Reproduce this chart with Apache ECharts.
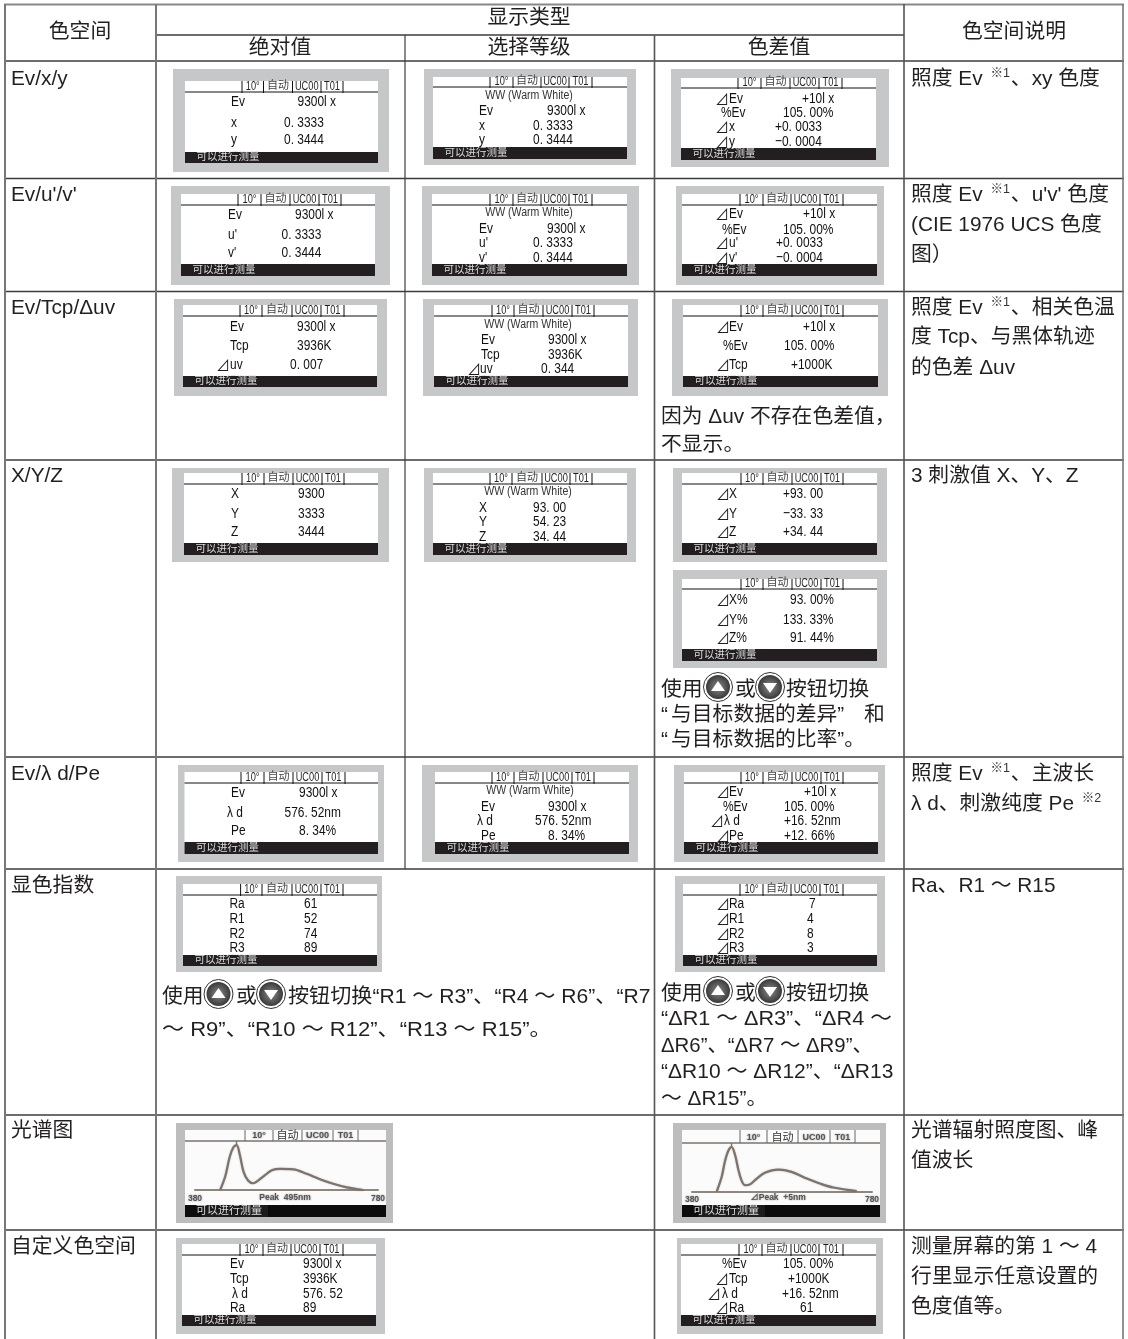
<!DOCTYPE html>
<html><head><meta charset="utf-8">
<style>html,body{margin:0;padding:0;background:#fff}#c{width:1128px;height:1339px}</style>
<script src="https://cdn.jsdelivr.net/npm/echarts@6/dist/echarts.min.js"></script>
</head><body><div id="c"></div>
<script>
// ---------- content ----------
const columnTitles = ["色空间","显示类型","绝对值","选择等级","色差值","色空间说明"];
const colorSpaces = ["Ev/x/y","Ev/u'/v'","Ev/Tcp/Δuv","X/Y/Z","Ev/λ d/Pe","显色指数","光谱图","自定义色空间"];
const statusText = "可以进行测量";
const screenHeader = ["10°","自动","UC00","T01"];
const targetName = "WW (Warm White)";

const absXy   = [["Ev","9300l x"],["x","0. 3333"],["y","0. 3444"]];
const absUv   = [["Ev","9300l x"],["u'","0. 3333"],["v'","0. 3444"]];
const absTcp  = [["Ev","9300l x"],["Tcp","3936K"],["⊿uv","0. 007"]];
const absXyz  = [["X","9300"],["Y","3333"],["Z","3444"]];
const absDom  = [["Ev","9300l x"],["λ d","576. 52nm"],["Pe","8. 34%"]];
const absCri  = [["Ra","61"],["R1","52"],["R2","74"],["R3","89"]];
const absUser = [["Ev","9300l x"],["Tcp","3936K"],["λ d","576. 52"],["Ra","89"]];

const rankXy  = absXy;
const rankUv  = absUv;
const rankTcp = [["Ev","9300l x"],["Tcp","3936K"],["⊿uv","0. 344"]];
const rankXyz = [["X","93. 00"],["Y","54. 23"],["Z","34. 44"]];
const rankDom = absDom;

const diffXy   = [["⊿Ev","+10l x"],["%Ev","105. 00%"],["⊿x","+0. 0033"],["⊿y","−0. 0004"]];
const diffUv   = [["⊿Ev","+10l x"],["%Ev","105. 00%"],["⊿u'","+0. 0033"],["⊿v'","−0. 0004"]];
const diffTcp  = [["⊿Ev","+10l x"],["%Ev","105. 00%"],["⊿Tcp","+1000K"]];
const diffXyz  = [["⊿X","+93. 00"],["⊿Y","−33. 33"],["⊿Z","+34. 44"]];
const diffXyzP = [["⊿X%","93. 00%"],["⊿Y%","133. 33%"],["⊿Z%","91. 44%"]];
const diffDom  = [["⊿Ev","+10l x"],["%Ev","105. 00%"],["⊿λ d","+16. 52nm"],["⊿Pe","+12. 66%"]];
const diffCri  = [["⊿Ra","7"],["⊿R1","4"],["⊿R2","8"],["⊿R3","3"]];
const diffUser = [["%Ev","105. 00%"],["⊿Tcp","+1000K"],["⊿λ d","+16. 52nm"],["⊿Ra","61"]];

// spectra: [wavelength nm], [relative level]
const specAbsNm  = [435,446,456,464,471,478,486,496,507,518,533,548,566,595,624,653,682,712,748];
const specAbsVal = [0,30,74,95,100,78,41,21,15,21,33,44,47,46,36,24,14,6,0];
const specDiffNm  = [435,446,453,461,468,476,483,490,498,509,524,542,572,601,635,664,694,746];
const specDiffVal = [0,33,67,92,100,81,49,25,14,16,29,42,49,44,29,18,9,1];

// ---------- drawing helpers ----------
const CJK = '"Liberation Sans","Noto Sans CJK SC",sans-serif';
const INK = '#231f20';
const BODY = '20.8px '+CJK;
const g = [];
function line(x1,y1,x2,y2,color,w){g.push({type:'line',silent:true,shape:{x1,y1,x2,y2},style:{stroke:color,lineWidth:w}});}
function rect(x1,y1,x2,y2,fill){g.push({type:'rect',silent:true,shape:{x:x1,y:y1,width:x2-x1,height:y2-y1},style:{fill}});}
function text(x,y,t,o){
  o=Object.assign({},o||{}); const sx=o.sx||1; delete o.sx;
  g.push({type:'text',silent:true,x,y:y+1,scaleX:sx,style:Object.assign({text:t,fill:INK,font:BODY,textAlign:'left',textVerticalAlign:'middle'},o)});
}
function lcd(x,y,t){text(x,y,t,{font:'15.5px '+CJK,sx:.77,fill:'#111'});}

function screen(gb,w,hy,bar,t,rows,pos,ww){
  rect(gb[0],gb[1],gb[2],gb[3],'#c6c7c9');
  rect(w[0],w[1],w[2],w[3],'#ffffff');
  line(w[0],hy,w[2],hy,'#111',1);
  t.forEach(x=>line(x,w[1],x,hy+1,'#111',1));
  screenHeader.forEach((s,i)=>{
    const cx=(t[i]+t[i+1])/2;
    if(i==1) text(cx,hy-7,s,{textAlign:'center',font:'11px '+CJK,fill:'#444'});
    else text(cx,hy-6.5,s,{textAlign:'center',font:'12.5px '+CJK,sx:.74});
  });
  rect(w[0],bar,w[2],w[3],INK);
  text(w[0]+11.5,(bar+w[3])/2-1,statusText,{font:'10.5px '+CJK,fill:'#ddd'});
  if(ww) text(ww[0],ww[1],targetName,{textAlign:'center',font:'12px '+CJK,fill:'#333',sx:.88});
  rows.forEach((r,i)=>{
    const p=pos[i]; let lab=r[0];
    if(lab[0]==='⊿'){
      text(p[3]-1,p[2],'⊿',{font:'14px "Noto Sans CJK SC","DejaVu Sans"'});
      lab=lab.slice(1);
    }
    lcd(p[0],p[2],lab);
    lcd(p[1],p[2],r[1]);
  });
}
function button(cx,cy,up){
  g.push({type:'circle',silent:true,shape:{cx,cy,r:14.5},style:{fill:'#fff',stroke:'#333',lineWidth:1}});
  g.push({type:'circle',silent:true,shape:{cx,cy,r:12},style:{fill:{type:'radial',x:.5,y:.5,r:.6,colorStops:[{offset:0,color:'#8a8a8a'},{offset:1,color:'#2a2a2a'}]}}});
  const d=up?1:-1;
  g.push({type:'polygon',silent:true,shape:{points:[[cx,cy-6*d],[cx-7,cy+4*d],[cx+7,cy+4*d]]},style:{fill:'#fff'}});
}
// text with superscript note markers written as ^…^
function body(x,y,t){
  const parts=t.split('^').map((s,i)=>i%2?'{s|'+s+'}':(s?'{t|'+s+'}':'')).join('');
  g.push({type:'text',silent:true,x,y:y+1,style:{text:parts,textVerticalAlign:'middle',rich:{
    t:{fill:INK,font:BODY},
    s:{fill:'#333',font:'12.5px '+CJK,padding:[0,1,11,2]}
  }}});
}

// ---------- table rules ----------
const DK='#3c3c3c', GR='#777';
const rowsY=[61,178.5,291.5,460,757,869,1115,1230];
line(4,4.5,1124,4.5,'#888',2);
line(156,35,904,35,DK,1.5);
rowsY.forEach(y=>line(4,y,1124,y,DK,1.5));
line(5,4,5,1339,GR,2);
line(156,4,156,1339,GR,2);
line(405,35,405,869,DK,1.2);
line(654.5,35,654.5,1339,'#555',1.6);
line(904,4,904,1339,'#555',1.6);
line(1123,4,1123,1339,GR,1.6);

// ---------- headings ----------
const C={textAlign:'center'};
text(80,31,columnTitles[0],C);
text(529,17,columnTitles[1],C);
text(280,47,columnTitles[2],C);
text(529,47,columnTitles[3],C);
text(779,47,columnTitles[4],C);
text(1014,31,columnTitles[5],C);
[78,194,307,475,773,885,1130,1246].forEach((y,i)=>text(11,y,colorSpaces[i]));

// ---------- description column ----------
[[78,'照度 Ev ^※1^、xy 色度'],
 [194,'照度 Ev ^※1^、u\'v\' 色度'],[224,'(CIE 1976 UCS 色度'],[254,'图）'],
 [307,'照度 Ev ^※1^、相关色温'],[336,'度 Tcp、与黑体轨迹'],[367,'的色差 Δuv'],
 [475,'3 刺激值 X、Y、Z'],
 [773,'照度 Ev ^※1^、主波长'],[803,'λ d、刺激纯度 Pe ^※2^'],
 [885,'Ra、R1 ～ R15'],
 [1130,'光谱辐射照度图、峰'],[1160,'值波长'],
 [1246,'测量屏幕的第 1 ～ 4'],[1276,'行里显示任意设置的'],[1306,'色度值等。']
].forEach(r=>body(911,r[0],r[1]));

// ---------- notes ----------
text(661,416,'因为 Δuv 不存在色差值，');
text(661,444,'不显示。');
// X/Y/Z note
text(661,689,'使用');button(718,687,true);text(735,689,'或');button(770,687,false);text(786,689,'按钮切换');
text(661,714,'“');text(671,714,'与目标数据的差异”');text(864,714,'和');
text(661,739,'“');text(671,739,'与目标数据的比率”。');
// CRI note, middle
text(162,996,'使用');button(218.5,994,true);text(236,996,'或');button(271,994,false);text(288,996,'按钮切换“R1 ～ R3”、“R4 ～ R6”、“R7',{sx:1.015});
text(162,1029,'～ R9”、“R10 ～ R12”、“R13 ～ R15”。',{sx:1.06});
// CRI note, difference
text(661,993,'使用');button(718,991,true);text(735,993,'或');button(770,991,false);text(786,993,'按钮切换');
text(661,1018,'“ΔR1 ～ ΔR3”、“ΔR4 ～',{sx:1.04});
text(661,1045,'ΔR6”、“ΔR7 ～ ΔR9”、',{sx:.98});
text(661,1071,'“ΔR10 ～ ΔR12”、“ΔR13',{sx:1.01});
text(661,1098,'～ ΔR15”。');

// ---------- LCD screens ----------
const H1=[242,263.5,292.5,321,343], H2=[490,513,541,569,592], H3=[738,761,790,819,842];
// absolute column
screen([173,69,389,172],[185,81,378,163],92,152,H1,absXy,[[231,297.5,101],[231,284,122],[231,284,139]]);
screen([171,186,390,285],[181,194,375,276],205,264,[238,261,290,319,341],absUv,[[228,295,214],[228,281.5,234],[228,281.5,252]]);
screen([174,299,387,396],[183,305,377,387],316,376,[240,262,292,321,344],absTcp,[[230,297,326],[230,297,345],[230,290,364,217]]);
screen([172,468,389,562],[184,473,378,555],484,543,[242,264,293,322,344],absXyz,[[231,298,493],[231,298,513],[231,298,531]]);
screen([178,765,384,862],[184.5,772,378,854],783,842,[241,264,293,322,345],absDom,[[231,299,792],[227,284.5,812],[231,299,830]]);
screen([176,876,382,972],[183,884,377,966],895,955,[240.6,262,292,321,343],absCri,[[229.5,304,903],[229.5,304,918],[229.5,304,933],[229.5,304,947]]);
screen([176,1238,385,1334],[182,1244,376,1326],1255,1315,[240,263,291,320,343],absUser,[[230,303,1263],[230,303,1278],[232,303,1293],[230,303,1307]]);
// rank column
screen([424,69,636,165],[433,77,627,159],87,147,H2,rankXy,[[479,547,110],[479,533,125],[479,533,139]],[529,95]);
screen([422,186,639,285],[432,194,627,276],205,264,H2,rankUv,[[479,547,228],[479,533,242],[479,533,257]],[529,212]);
screen([423,299,638,396],[434,305,628,387],316,376,[492,514,543,572,594],rankTcp,[[481,548,339],[481,548,354],[480,541,368,468]],[528,324]);
screen([424,468,636,562],[433,473,627,555],484,543,[490,512,542,570,592],rankXyz,[[479,533,507],[479,533,521],[479,533,536]],[528,491]);
screen([422,765,638,862],[435,772,629,854],783,842,[492,514,543,572,594],rankDom,[[481,548,806],[477,535,820],[481,548,835]],[530,790]);
// difference column
screen([671,69,889,167],[681,78,876,160],88,148,H3,diffXy,[[729,802,98,716],[721,783,112],[729,775,126,716],[729,775,141,716]]);
screen([676,186,884,285],[682,194,877,276],205,264,[740,763,791,820,843],diffUv,[[729,803,213,716],[722,783,229],[729,776,242,716],[729,776,257,716]]);
screen([672,299,888,396],[683,305,878,387],316,376,[741,763,792,821,843],diffTcp,[[729,803,326,717],[723,784,345],[729,791,364,717]]);
screen([673,468,887,562],[682,473,877,555],484,543,[741,763,792,821,843],diffXyz,[[729,783,493,717],[729,783,513,717],[729,783,531,717]]);
screen([673,570,887,668],[682,579,877,661],589,649,[741,763,792,821,843],diffXyzP,[[729,790,599,717],[729,783,619,717],[729,790,637,717]]);
screen([674,765,885,862],[684,772,878,854],783,842,[741,763,792,821,843],diffDom,[[729,804,791,717],[723,784,806],[724,784,820,711],[729,784,835,717]]);
screen([675,876,885,972],[683,884,877,966],895,955,[740,763,791,820,843],diffCri,[[729,809,903,717],[729,807,918,717],[729,807,933,717],[729,807,947,717]]);
screen([677,1238,883,1334],[681,1244,876,1326],1255,1315,[739,762,791,819,843],diffUser,[[722,783,1263],[729,788,1278,716],[722,782,1293,708],[729,800,1307,716]]);

// ---------- spectrum screens (frames; curves come from the line series) ----------
const soft={textShadowColor:'rgba(90,90,90,.7)',textShadowBlur:2};
function specFrame(gb,w,hy,bar,t,caption,capX){
  rect(gb[0],gb[1],gb[2],gb[3],'#bdbdbd');
  rect(w[0],w[1],w[2],w[3],'#fbfbfb');
  line(w[0],hy,w[2],hy,'#7b736e',1.6);
  t.forEach(x=>line(x,w[1],x,hy,'#666',1));
  screenHeader.forEach((s,i)=>{
    const sp=i==1?'11px ':'bold 9px ';
    text((t[i]+t[i+1])/2,hy-6.5,s,Object.assign({textAlign:'center',font:sp+CJK,fill:i==1?'#333':'#555'},i==1?{}:soft));
  });
  rect(w[0],bar,w[2],w[3],'#0c0c0c');
  rect(w[0]+16,bar,w[0]+83,w[3],'#1c1c1c');
  text(w[0]+11,(bar+w[3])/2-1,statusText,{font:'11px '+CJK,fill:'#ddd'});
  text(capX,bar-8.5,caption,Object.assign({font:'bold 8.5px '+CJK,fill:'#555',textAlign:'center'},soft));
}
specFrame([176,1123,393,1223],[185,1130,386,1217],1141,1205,[245,273,302,333,358],'Peak  495nm',285);
specFrame([673,1123,886,1223],[682,1130,880,1217],1143,1205,[740,767,798,830,855],'⊿Peak  +5nm',778);

// ---------- spectrum axes and series ----------
const axisFont={fontFamily:'"Liberation Sans"',fontWeight:'bold',fontSize:8.5,color:'#555',margin:4,textShadowColor:'rgba(90,90,90,.7)',textShadowBlur:2};
function xA(i){return {type:'value',gridIndex:i,min:380,max:780,z:5,splitLine:{show:false},
  axisLine:{show:true,onZero:false,lineStyle:{color:'#8d8780',width:2}},axisTick:{show:false},
  axisLabel:Object.assign({customValues:[380,780]},axisFont)};}
function yA(i){return {type:'value',gridIndex:i,min:0,max:109,show:false};}
function ser(i,nm,val){
  const pk=nm[val.indexOf(100)];
  return {type:'line',xAxisIndex:i,yAxisIndex:i,z:6,data:nm.map((x,k)=>[x,val[k]]),
  showSymbol:false,smooth:0.35,silent:true,animation:false,clip:false,
  lineStyle:{color:'#7d736c',width:2.2,shadowColor:'rgba(120,110,105,.5)',shadowBlur:1.5},
  markLine:{silent:true,animation:false,symbol:'none',label:{show:false},lineStyle:{color:'#7d736c',width:1.4,type:'solid'},
    data:[[{coord:[pk,100]},{coord:[pk,109]}]]}};
}

const chart=echarts.init(document.getElementById('c'),null,{renderer:'canvas'});
chart.setOption({
  animation:false,
  backgroundColor:'#fff',
  grid:[{left:195,top:1141,width:183,height:49},{left:692,top:1143,width:180,height:48.5}],
  xAxis:[xA(0),xA(1)],
  yAxis:[yA(0),yA(1)],
  series:[ser(0,specAbsNm,specAbsVal),ser(1,specDiffNm,specDiffVal)],
  graphic:{elements:g}
});
</script></body></html>
